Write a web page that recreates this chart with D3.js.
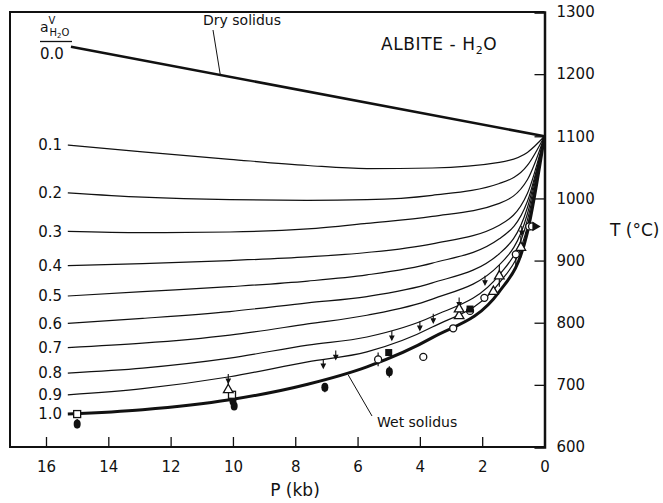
<!DOCTYPE html>
<html>
<head>
<meta charset="utf-8">
<script src="https://cdn.jsdelivr.net/npm/d3@7"></script>
<style>
  body { margin: 0; background: #fff; }
  text { font-family: "DejaVu Sans", sans-serif; fill: #111; }
</style>
</head>
<body>
<div id="chart"></div>
<script>
const width = 663;
const height = 503;

// pressure grid (kb) used for every activity curve
const pressures = [15.3, 12.9, 10.1, 7.6, 5.7, 3.6, 1.45, 0.55, 0];
// temperatures (°C) on each water-activity curve
const t01 = [1086, 1075, 1063, 1053, 1048, 1049, 1058, 1074, 1100];
const t02 = [1009, 1002, 998, 997, 998, 1005, 1024, 1053, 1100];
const t03 = [947, 945, 946, 951, 960, 971, 992, 1030, 1100];
const t04 = [892, 895, 900, 906, 913, 927, 957, 1008, 1100];
const t05 = [843, 850, 858, 867, 877, 896, 935, 995, 1100];
const t06 = [799, 807, 818, 832, 842, 864, 911, 985, 1100];
const t07 = [760, 767, 780, 798, 812, 838, 893, 975, 1100];
const t08 = [719, 727, 743, 764, 777, 810, 877, 965, 1100];
const t09 = [684, 694, 713, 737, 753, 793, 864, 955, 1100];
const tWet = [653, 660, 676, 701, 729, 776, 850, 945, 1100];
const activityLabels = ["0.1", "0.2", "0.3", "0.4", "0.5", "0.6", "0.7", "0.8", "0.9", "1.0"];

const dryP = [15.2, 0];
const dryT = [1244, 1100];

// experimental points [P, T]
const openSquares = [[15.0, 653], [10.03, 684]];
const filledCircles = [[15.0, 637], [10.0, 674], [9.96, 666], [7.05, 696], [4.98, 721]];
const openTriangles = [[10.15, 692], [2.74, 811], [2.74, 822], [1.64, 850], [1.45, 875], [0.76, 921]];
const filledSquares = [[5.0, 752], [2.39, 822]];
const openCircles = [[5.34, 741], [3.89, 745], [2.93, 791], [2.39, 819], [1.93, 840], [0.92, 910], [0.49, 955], [0.40, 955]];
const filledTriangles = [[0.3, 955]];
const downArrows = [[10.15, 703], [7.1, 727], [6.7, 741], [4.9, 772], [4.0, 788], [3.57, 800], [2.74, 826], [1.91, 861], [0.73, 941]];
// vertical error bars [P, Tlow, Thigh]
const errorBars = [[15.0, 630, 645], [10.15, 692, 705], [7.05, 688, 703], [5.34, 730, 752], [4.98, 712, 730], [1.45, 858, 893], [0.92, 890, 910], [0.76, 905, 940]];

const xTicks = [16, 14, 12, 10, 8, 6, 4, 2, 0];
const yTicks = [600, 700, 800, 900, 1000, 1100, 1200, 1300];

const x = d3.scaleLinear().domain([16, 0]).range([46, 544.5]);
const y = d3.scaleLinear().domain([600, 1300]).range([447, 12]);

const svg = d3.select("#chart")
    .append("svg")
    .attr("width", width)
    .attr("height", height);

// frame
svg.append("path")
    .attr("d", `M${x(0)},${y(1300)}H10V${y(600)}H${x(0)}`)
    .attr("fill", "none")
    .attr("stroke", "#111")
    .attr("stroke-width", 2);

// right axis (T) with inward ticks
const yAxis = svg.append("g")
    .attr("transform", `translate(${x(0)},0)`)
    .call(d3.axisRight(y).tickValues(yTicks).tickFormat(d3.format("d")).tickSize(-10));
yAxis.select(".domain").attr("stroke-width", 2.5).attr("stroke", "#111");
yAxis.selectAll(".tick line").attr("stroke", "#111").attr("stroke-width", 1.3);
yAxis.selectAll(".tick text")
    .attr("x", 12)
    .attr("font-size", 15)
    .style("font-family", "DejaVu Sans");

// bottom axis (P) with inward ticks
const xAxis = svg.append("g")
    .attr("transform", `translate(0,${y(600)})`)
    .call(d3.axisBottom(x).tickValues(xTicks).tickSize(-10).tickPadding(14));
xAxis.select(".domain").remove();
xAxis.selectAll(".tick line").attr("stroke", "#111").attr("stroke-width", 1.3);
xAxis.selectAll(".tick text")
    .attr("font-size", 15)
    .style("font-family", "DejaVu Sans");

svg.append("text")
    .attr("x", 295).attr("y", 496)
    .attr("text-anchor", "middle")
    .attr("font-size", 17)
    .text("P (kb)");

svg.append("text")
    .attr("x", 610).attr("y", 236)
    .attr("font-size", 17)
    .text("T (°C)");

// curves
const line = d3.line()
    .x(d => x(d[0]))
    .y(d => y(d[1]))
    .curve(d3.curveMonotoneX);

const series = [t01, t02, t03, t04, t05, t06, t07, t08, t09, tWet];

series.forEach((temps, i) => {
    const pts = pressures.map((p, j) => [p, temps[j]]);
    const wet = i === series.length - 1;
    svg.append("path")
        .attr("d", line(pts))
        .attr("fill", "none")
        .attr("stroke", "#111")
        .attr("stroke-width", wet ? 3 : 1.2);
    svg.append("text")
        .attr("x", 62)
        .attr("y", y(temps[0]))
        .attr("dy", "0.35em")
        .attr("text-anchor", "end")
        .attr("font-size", 15)
        .text(activityLabels[i]);
});

// dry solidus
svg.append("path")
    .attr("d", line(dryP.map((p, j) => [p, dryT[j]])))
    .attr("fill", "none")
    .attr("stroke", "#111")
    .attr("stroke-width", 2.6);

// header label a^V_H2O over 0.0
const head = svg.append("text").attr("x", 40).attr("y", 32).attr("font-size", 14);
head.append("tspan").text("a");
head.append("tspan").attr("font-size", 10).attr("dy", -8).text("V");
head.append("tspan").attr("font-size", 10).attr("dx", -6).attr("dy", 12).text("H");
head.append("tspan").attr("font-size", 7).attr("dy", 2).text("2");
head.append("tspan").attr("font-size", 10).attr("dy", -2).text("O");
svg.append("line")
    .attr("x1", 40).attr("x2", 72)
    .attr("y1", 41.5).attr("y2", 41.5)
    .attr("stroke", "#111").attr("stroke-width", 1.3);
svg.append("text")
    .attr("x", 40).attr("y", 59)
    .attr("font-size", 15)
    .text("0.0");

// annotations
svg.append("text")
    .attr("x", 203).attr("y", 25)
    .attr("font-size", 14)
    .text("Dry solidus");
svg.append("line")
    .attr("x1", 213).attr("y1", 30)
    .attr("x2", x(10.4)).attr("y2", y(1197))
    .attr("stroke", "#111").attr("stroke-width", 1);

const title = svg.append("text")
    .attr("x", 381).attr("y", 50)
    .attr("font-size", 17)
    .attr("letter-spacing", 0.6);
title.append("tspan").text("ALBITE - H");
title.append("tspan").attr("font-size", 11).attr("dy", 4).text("2");
title.append("tspan").attr("dy", -4).text("O");

svg.append("text")
    .attr("x", 377).attr("y", 427)
    .attr("font-size", 14)
    .text("Wet solidus");
svg.append("line")
    .attr("x1", 372).attr("y1", 416)
    .attr("x2", x(6.3)).attr("y2", y(716))
    .attr("stroke", "#111").attr("stroke-width", 1);

// error bars
svg.selectAll(".err")
    .data(errorBars)
    .enter()
    .append("line")
    .attr("x1", d => x(d[0])).attr("x2", d => x(d[0]))
    .attr("y1", d => y(d[1])).attr("y2", d => y(d[2]))
    .attr("stroke", "#111").attr("stroke-width", 1.2);

// arrows (upper limits)
svg.selectAll(".arrow")
    .data(downArrows)
    .enter()
    .append("path")
    .attr("d", d => {
        const px = x(d[0]), py = y(d[1]);
        return `M${px},${py - 9}V${py - 2}M${px - 2},${py - 4}L${px},${py}L${px + 2},${py - 4}Z`;
    })
    .attr("fill", "#111")
    .attr("stroke", "#111")
    .attr("stroke-width", 1.1);

svg.selectAll(".oc")
    .data(openCircles)
    .enter()
    .append("circle")
    .attr("cx", d => x(d[0])).attr("cy", d => y(d[1]))
    .attr("r", 3.5)
    .attr("fill", "#fff").attr("stroke", "#111").attr("stroke-width", 1.3);

svg.selectAll(".fc")
    .data(filledCircles)
    .enter()
    .append("ellipse")
    .attr("cx", d => x(d[0])).attr("cy", d => y(d[1]))
    .attr("rx", 3.5).attr("ry", 4.5)
    .attr("fill", "#111");

svg.selectAll(".os")
    .data(openSquares)
    .enter()
    .append("rect")
    .attr("x", d => x(d[0]) - 3.5).attr("y", d => y(d[1]) - 3.5)
    .attr("width", 7).attr("height", 7)
    .attr("fill", "#fff").attr("stroke", "#111").attr("stroke-width", 1.3);

svg.selectAll(".fs")
    .data(filledSquares)
    .enter()
    .append("rect")
    .attr("x", d => x(d[0]) - 3.5).attr("y", d => y(d[1]) - 3.5)
    .attr("width", 7).attr("height", 7)
    .attr("fill", "#111");

const tri = d3.symbol().type(d3.symbolTriangle).size(40);
svg.selectAll(".ot")
    .data(openTriangles)
    .enter()
    .append("path")
    .attr("d", tri)
    .attr("transform", d => `translate(${x(d[0])},${y(d[1])})`)
    .attr("fill", "#fff").attr("stroke", "#111").attr("stroke-width", 1.3);

svg.selectAll(".ft")
    .data(filledTriangles)
    .enter()
    .append("path")
    .attr("d", tri)
    .attr("transform", d => `translate(${x(d[0])},${y(d[1])}) rotate(90)`)
    .attr("fill", "#111");
</script>
</body>
</html>
